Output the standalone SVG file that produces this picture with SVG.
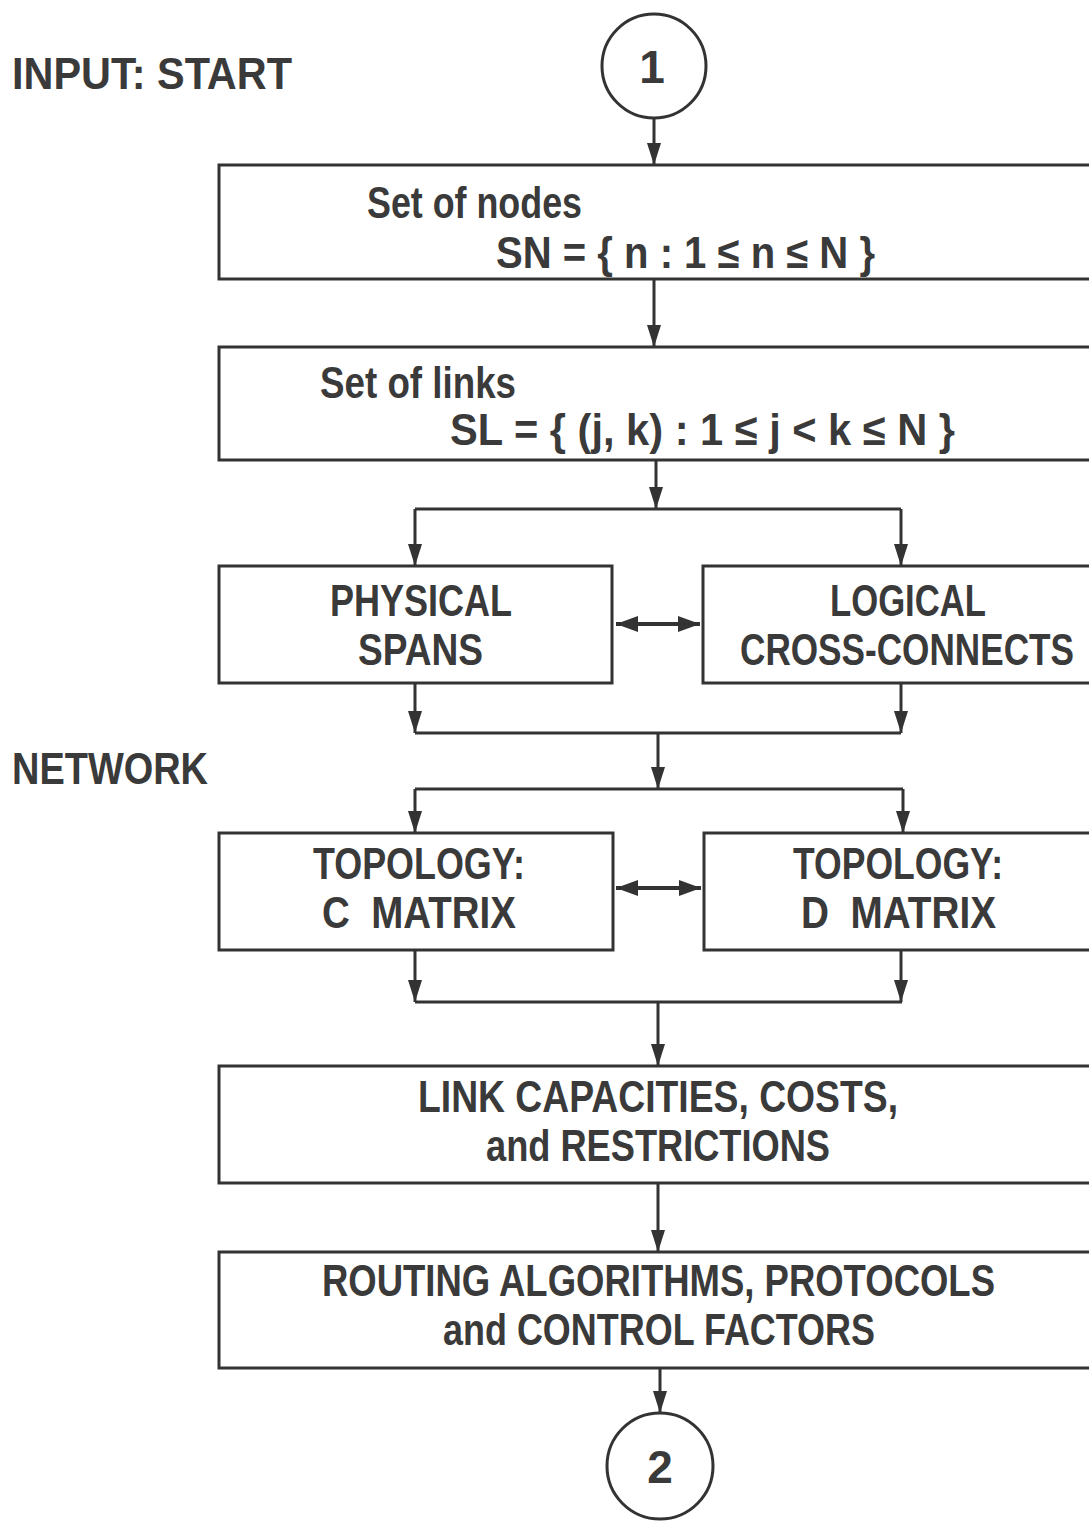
<svg xmlns="http://www.w3.org/2000/svg" width="1089" height="1521" viewBox="0 0 1089 1521">
<style>
.bx{fill:#fff;stroke:#333;stroke-width:3}
.ln{fill:none;stroke:#333;stroke-width:3}
.ar{fill:none;stroke:#333;stroke-width:3;marker-end:url(#ah)}
.da{fill:none;stroke:#333;stroke-width:4;marker-end:url(#ah2);marker-start:url(#ah2)}
.t{font-family:"Liberation Sans",Arial,sans-serif;font-weight:bold;font-size:44px;fill:#3a3a3a;white-space:pre}
.c{font-family:"Liberation Sans",Arial,sans-serif;font-weight:bold;font-size:46px;fill:#3a3a3a;text-anchor:middle}
</style>
<defs>
<marker id="ah" markerUnits="userSpaceOnUse" markerWidth="24" markerHeight="14" refX="22" refY="7" orient="auto">
<path d="M0,0 L22,7 L0,14 z" fill="#333"/>
</marker>
<marker id="ah2" markerUnits="userSpaceOnUse" markerWidth="24" markerHeight="16" refX="22" refY="8" orient="auto-start-reverse">
<path d="M0,0 L22,8 L0,16 z" fill="#333"/>
</marker>
</defs>
<rect width="1089" height="1521" fill="#fff"/>

<g id="label-input">
<text class="t" x="12" y="89" textLength="280" lengthAdjust="spacingAndGlyphs">INPUT: START</text>
</g>
<g id="label-network">
<text class="t" x="12" y="784" textLength="196" lengthAdjust="spacingAndGlyphs">NETWORK</text>
</g>

<g id="connectors">
<line class="ar" x1="654" y1="118" x2="654" y2="165"/>
<line class="ar" x1="654" y1="279" x2="654" y2="347"/>
<line class="ar" x1="656" y1="460" x2="656" y2="509"/>
<polyline class="ln" points="415,509 901,509"/>
<line class="ar" x1="415" y1="509" x2="415" y2="566"/>
<line class="ar" x1="901" y1="509" x2="901" y2="566"/>
<line class="da" x1="616" y1="624" x2="700" y2="624"/>
<line class="ar" x1="415" y1="683" x2="415" y2="733"/>
<line class="ar" x1="901" y1="683" x2="901" y2="733"/>
<polyline class="ln" points="415,733 901,733"/>
<line class="ar" x1="658" y1="733" x2="658" y2="789"/>
<polyline class="ln" points="415,789 903,789"/>
<line class="ar" x1="415" y1="789" x2="415" y2="833"/>
<line class="ar" x1="903" y1="789" x2="903" y2="833"/>
<line class="da" x1="616" y1="888" x2="701" y2="888"/>
<line class="ar" x1="415" y1="950" x2="415" y2="1002"/>
<line class="ar" x1="901" y1="950" x2="901" y2="1002"/>
<polyline class="ln" points="415,1002 902,1002"/>
<line class="ar" x1="658" y1="1002" x2="658" y2="1066"/>
<line class="ar" x1="658" y1="1183" x2="658" y2="1252"/>
<line class="ar" x1="660" y1="1368" x2="660" y2="1413"/>
</g>

<g id="start">
<circle class="bx" cx="654" cy="66" r="52"/>
<text class="c" x="652" y="83">1</text>
</g>

<g id="nodes">
<rect class="bx" x="219" y="165" width="872" height="114"/>
<text class="t" x="367" y="218" textLength="215" lengthAdjust="spacingAndGlyphs">Set of nodes</text>
<text class="t" x="496" y="268" textLength="379" lengthAdjust="spacingAndGlyphs">SN = { n : 1 ≤ n ≤ N }</text>
</g>

<g id="links">
<rect class="bx" x="219" y="347" width="872" height="113"/>
<text class="t" x="320" y="398" textLength="196" lengthAdjust="spacingAndGlyphs">Set of links</text>
<text class="t" x="450" y="445" textLength="505" lengthAdjust="spacingAndGlyphs">SL = { (j, k) : 1 ≤ j &lt; k ≤ N }</text>
</g>

<g id="physical">
<rect class="bx" x="219" y="566" width="393" height="117"/>
<text class="t" x="330" y="616" textLength="182" lengthAdjust="spacingAndGlyphs">PHYSICAL</text>
<text class="t" x="358" y="665" textLength="125" lengthAdjust="spacingAndGlyphs">SPANS</text>
</g>

<g id="logical">
<rect class="bx" x="703" y="566" width="388" height="117"/>
<text class="t" x="740" y="616" textLength="156" lengthAdjust="spacingAndGlyphs" dx="90">LOGICAL</text>
<text class="t" x="740" y="665" textLength="334" lengthAdjust="spacingAndGlyphs">CROSS-CONNECTS</text>
</g>

<g id="topology-c">
<rect class="bx" x="219" y="833" width="394" height="117"/>
<text class="t" x="313" y="879" textLength="212" lengthAdjust="spacingAndGlyphs">TOPOLOGY:</text>
<text class="t" x="322" y="928" textLength="194" lengthAdjust="spacingAndGlyphs">C  MATRIX</text>
</g>

<g id="topology-d">
<rect class="bx" x="704" y="833" width="387" height="117"/>
<text class="t" x="793" y="879" textLength="210" lengthAdjust="spacingAndGlyphs">TOPOLOGY:</text>
<text class="t" x="801" y="928" textLength="195" lengthAdjust="spacingAndGlyphs">D  MATRIX</text>
</g>

<g id="capacities">
<rect class="bx" x="219" y="1066" width="872" height="117"/>
<text class="t" x="418" y="1112" textLength="480" lengthAdjust="spacingAndGlyphs">LINK CAPACITIES, COSTS,</text>
<text class="t" x="486" y="1161" textLength="344" lengthAdjust="spacingAndGlyphs">and RESTRICTIONS</text>
</g>

<g id="routing">
<rect class="bx" x="219" y="1252" width="872" height="116"/>
<text class="t" x="322" y="1296" textLength="673" lengthAdjust="spacingAndGlyphs">ROUTING ALGORITHMS, PROTOCOLS</text>
<text class="t" x="443" y="1345" textLength="432" lengthAdjust="spacingAndGlyphs">and CONTROL FACTORS</text>
</g>

<g id="end">
<circle class="bx" cx="660" cy="1466" r="53"/>
<text class="c" x="660" y="1483">2</text>
</g>
</svg>
